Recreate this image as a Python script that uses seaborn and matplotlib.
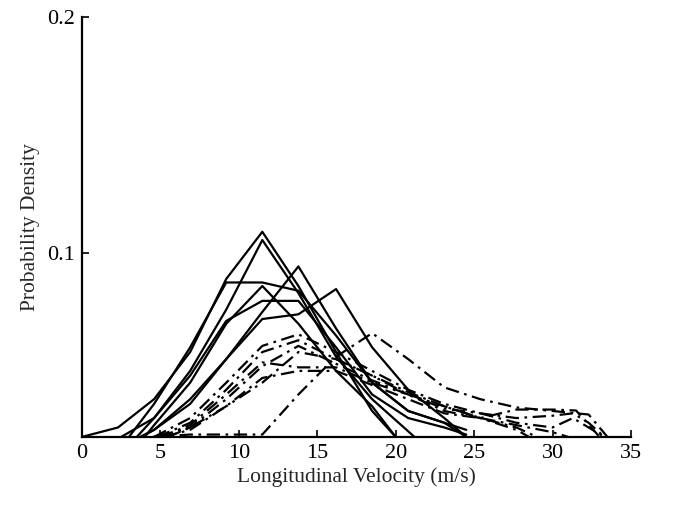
import numpy as np
import pandas as pd
import matplotlib
matplotlib.use("Agg")
import matplotlib.pyplot as plt
import seaborn as sns

# ---- data ----
# solid curves
s1_x = [0, 2.3, 4.6, 6.9, 9.2, 11.5, 13.8, 16.2, 18.5, 20.0]
s1_y = [0.022, 0.026, 0.038, 0.058, 0.089, 0.109, 0.086, 0.058, 0.033, 0.022]
s2_x = [2.5, 4.6, 6.9, 9.2, 11.5, 13.8, 16.2, 18.5, 21.2]
s2_y = [0.022, 0.030, 0.050, 0.076, 0.1055, 0.083, 0.056, 0.038, 0.022]
s3_x = [3.0, 4.6, 6.9, 9.2, 11.5, 13.8, 16.2, 18.5, 20.8, 23.1, 24.5]
s3_y = [0.022, 0.036, 0.060, 0.0875, 0.0875, 0.084, 0.065, 0.045, 0.033, 0.028, 0.022]
s4_x = [3.7, 4.6, 6.9, 9.2, 11.5, 13.8, 16.2, 18.5, 20.8, 23.1, 24.5]
s4_y = [0.022, 0.025, 0.036, 0.055, 0.075, 0.0943, 0.068, 0.045, 0.033, 0.028, 0.025]
s5_x = [3.8, 4.6, 6.9, 9.2, 11.5, 13.8, 16.2, 18.5, 20.8, 23.1, 24.5]
s5_y = [0.022, 0.025, 0.038, 0.055, 0.072, 0.074, 0.0847, 0.060, 0.042, 0.030, 0.022]
s6_x = [3.5, 4.6, 6.9, 9.2, 11.5, 13.8, 16.2, 18.5, 20.8, 23.1, 24.5]
s6_y = [0.022, 0.030, 0.048, 0.0712, 0.0797, 0.0797, 0.060, 0.040, 0.030, 0.026, 0.023]
s7_x = [4.0, 4.6, 6.9, 9.2, 11.5, 13.8, 16.2, 18.5, 20.0]
s7_y = [0.022, 0.027, 0.045, 0.070, 0.086, 0.070, 0.050, 0.035, 0.022]

# dash-dot curves
d1_x = [4.5, 6.9, 9.2, 11.5, 13.8, 16.2, 18.5, 20.8, 23.1, 25.4, 27.7, 30.0, 32.3, 33.5]
d1_y = [0.022, 0.023, 0.023, 0.023, 0.040, 0.056, 0.066, 0.055, 0.043, 0.038, 0.0345, 0.033, 0.0315, 0.022]
d2_x = [4.6, 6.9, 9.2, 11.5, 13.8, 16.2, 18.5, 20.8, 23.1, 25.4, 27.7, 30.0, 31.3, 33.3]
d2_y = [0.022, 0.030, 0.045, 0.0606, 0.0655, 0.058, 0.050, 0.042, 0.036, 0.032, 0.028, 0.026, 0.030, 0.022]
d3_x = [4.8, 6.9, 9.2, 11.5, 13.8, 16.2, 18.5, 20.8, 23.1, 25.4, 27.7, 29.0]
d3_y = [0.022, 0.028, 0.042, 0.058, 0.063, 0.055, 0.048, 0.040, 0.035, 0.030, 0.026, 0.022]
d4_x = [5.0, 6.9, 9.2, 11.5, 13.8, 16.2, 18.5, 20.8, 23.1, 25.4, 27.7, 28.5]
d4_y = [0.022, 0.026, 0.038, 0.052, 0.0606, 0.053, 0.046, 0.040, 0.033, 0.030, 0.025, 0.022]
d5_x = [5.0, 6.9, 9.2, 11.5, 13.8, 16.2, 18.5, 20.8, 23.1, 25.4, 27.7, 30.0, 31.3, 32.3, 33.3]
d5_y = [0.022, 0.027, 0.040, 0.0536, 0.0515, 0.0515, 0.045, 0.040, 0.034, 0.032, 0.030, 0.031, 0.032, 0.028, 0.022]
d6_x = [5.2, 6.9, 9.2, 11.5, 13.8, 16.2, 18.5, 20.8, 23.1, 25.4, 27.7, 30.0, 31.5, 33.0]
d6_y = [0.022, 0.025, 0.035, 0.047, 0.050, 0.050, 0.044, 0.038, 0.032, 0.030, 0.0336, 0.0336, 0.0332, 0.022]
d7_x = [5.5, 6.9, 9.2, 11.5, 13.8, 16.2, 18.5, 20.8, 23.1, 25.4, 27.7, 30.0, 31.0]
d7_y = [0.022, 0.026, 0.035, 0.045, 0.058, 0.055, 0.048, 0.041, 0.035, 0.030, 0.027, 0.024, 0.022]

solid = [(s1_x, s1_y), (s2_x, s2_y), (s3_x, s3_y), (s4_x, s4_y),
         (s5_x, s5_y), (s6_x, s6_y), (s7_x, s7_y)]
dashdot = [(d1_x, d1_y), (d2_x, d2_y), (d3_x, d3_y), (d4_x, d4_y),
           (d5_x, d5_y), (d6_x, d6_y), (d7_x, d7_y)]

x_ticks = [0, 5, 10, 15, 20, 25, 30, 35]
y_ticks = [0.1, 0.2]
y_tick_labels = ["0.1", "0.2"]

rows = []
uid = 0
for kind, group in (("solid", solid), ("dashdot", dashdot)):
    for xs, ys in group:
        for i, (xv, yv) in enumerate(zip(xs, ys)):
            rows.append({"x": xv, "y": yv, "id": uid, "kind": kind, "order": i})
        uid += 1
df = pd.DataFrame(rows)

sns.set_style("ticks")
plt.rcParams["font.family"] = ["Liberation Serif", "DejaVu Serif"]
plt.rcParams["xtick.direction"] = "in"
plt.rcParams["ytick.direction"] = "in"

fig = plt.figure(figsize=(6.77, 5.22), dpi=100)
ax = fig.add_axes([0.121, 0.163, 0.811, 0.804])

for kind, ls, lw in (("solid", "-", 1.6), ("dashdot", (0, (6, 2.5, 1.2, 2.5)), 1.6)):
    sub = df[df["kind"] == kind]
    for _, g in sub.groupby("id"):
        sns.lineplot(data=g, x="x", y="y", sort=False, estimator=None,
                     color="black", linewidth=lw, linestyle=ls, ax=ax, legend=False)

ax.set_xlim(0, 35)
ax.set_ylim(0.022, 0.2)
ax.set_xticks(x_ticks)
ax.set_xticklabels([str(t) for t in x_ticks])
ax.set_yticks(y_ticks)
ax.set_yticklabels(y_tick_labels)
ax.tick_params(axis="both", labelsize=16, length=5, width=1.2, pad=5, colors="black")
ax.set_xlabel("Longitudinal Velocity (m/s)", fontsize=15.5, labelpad=3)
ax.set_ylabel("Probability Density", fontsize=15.5, labelpad=5)
for s in ("top", "right"):
    ax.spines[s].set_visible(False)
for s in ("left", "bottom"):
    ax.spines[s].set_linewidth(1.6)
    ax.spines[s].set_color("black")

fig.savefig("out.png", dpi=100)
